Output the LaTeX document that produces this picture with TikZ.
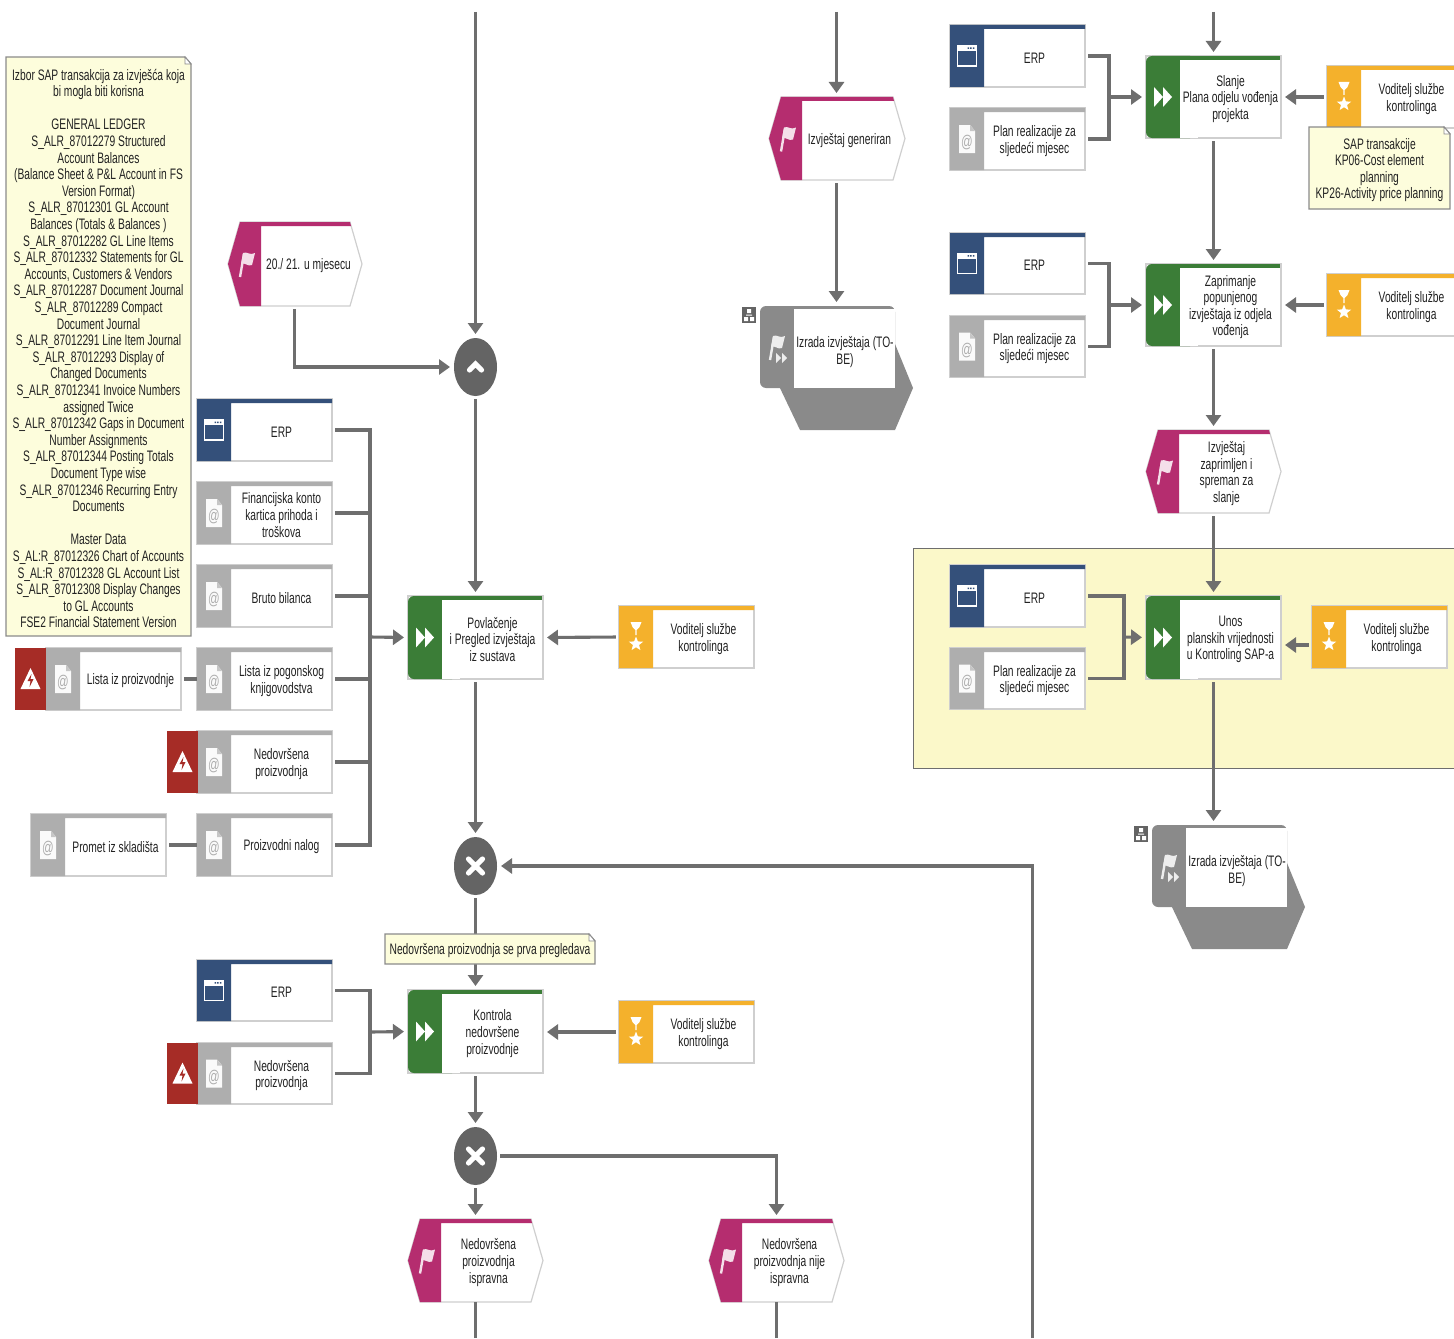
\documentclass[tikz,border=0pt]{standalone}
\usepackage{fontspec}
\setmainfont[FakeStretch=0.675]{Liberation Sans}
\usetikzlibrary{arrows.meta,fit,shapes.geometric}
\definecolor{cblue}{HTML}{34507A}
\definecolor{cgray}{HTML}{AEAEAE}
\definecolor{cgreen}{HTML}{3B7D37}
\definecolor{cmag}{HTML}{B52D6F}
\definecolor{cyel}{HTML}{F4B12C}
\definecolor{cred}{HTML}{A62C26}
\definecolor{cconn}{HTML}{6E6E6E}
\definecolor{cproc}{HTML}{8A8A8A}
\definecolor{cgate}{HTML}{646464}
\definecolor{cnote}{HTML}{FDFDDC}
\definecolor{cregion}{HTML}{FBF8C9}
\definecolor{cedge}{HTML}{CFCFCF}
\definecolor{ctext}{HTML}{222222}
\tikzset{
 lbl/.style={inner sep=0pt,align=center,text=ctext,yshift=-1pt,font=\fontsize{7.6}{8.3}\selectfont},
 hull/.style={inner sep=0pt,outer sep=0pt},
 line/.style={draw=cconn,line width=1.55pt,shorten <=1.6pt,line join=miter},
 conn/.style={line,-{Triangle[length=5.5pt,width=7.5pt]},shorten >=2pt},
 gate/.style={ellipse,fill=cgate,minimum width=21.5pt,minimum height=29pt,inner sep=0pt,outer sep=0pt},
 gatemark/.style={draw=white,line width=2.6pt,line cap=round},
}
% icons, drawn round the current origin
\newcommand\icoWin[1]{\draw[white,line width=.6pt] (-9.5,-10) rectangle (9.5,10);\fill[white] (-9.5,-10) rectangle (9.5,-5);
 \fill[cblue] (0.5,-8.5) rectangle (2,-7) (3.2,-8.5) rectangle (4.7,-7) (5.9,-8.5) rectangle (7.4,-7);}
\newcommand\icoDoc[1]{\fill[white!94!cgray] (-8,-14) -- (3,-14) -- (8,-8) -- (8,14) -- (-8,14) -- cycle;
 \fill[cgray!70] (3,-14) -- (8,-8) -- (3,-8) -- cycle;
 \node[inner sep=0pt,text=cgray,font=\fontsize{8.5}{9}\selectfont] (#1-at) at (0,4) {@};}
\newcommand\icoFwd[1]{\fill[white] (-9,-10) -- (0,0) -- (-9,10) -- cycle (0,-10) -- (9,0) -- (0,10) -- cycle;}
\newcommand\icoFlag[1]{\draw[white!85!cmag,line width=1.2pt] (-6,13) -- (-2,-10);
 \fill[white!85!cmag] (-3,-11) .. controls (1,-13) and (4,-8) .. (9,-11) -- (6,1) .. controls (2,3) and (-1,-2) .. (-5,0) -- cycle;}
\newcommand\icoRole[1]{\fill[white] (-5.5,-15) -- (5.5,-15) -- (3.5,-10) -- (0.7,-7) -- (0.7,-2) -- (-0.7,-2) -- (-0.7,-7) -- (-3.5,-10) -- cycle;
 \begin{scope}[shift={(0,7)}]\fill[white] (270:7.5)--(306:3.2)--(342:7.5)--(18:3.2)--(54:7.5)--(90:3.2)--(126:7.5)--(162:3.2)--(198:7.5)--(234:3.2)--cycle;\end{scope}}
\newcommand\icoRisk[1]{\fill[white] (-10,10) -- (10,10) -- (0,-11) -- cycle;
 \fill[cred] (1,-5) -- (-3,2) -- (0,2) -- (-1,8) -- (3,0) -- (0,0) -- cycle;}
% object box: name x1 y1 x2 y2 colour icon text
\newcommand\objbox[8]{%
 \pgfmathsetmacro\myCx{(#2+34+#4)/2}\pgfmathsetmacro\myCy{(#3+#5)/2}\pgfmathsetmacro\myIx{#2+17}
 \draw[fill=white,draw=cedge,line width=.8pt] (#2,#3) rectangle (#4,#5);
 \fill[#6] (#2,#3) rectangle ({#2+34},#5) (#2,#3) rectangle (#4,{#3+4});
 \node[hull,fit={(#2,#3)(#4,#5)}] (#1) {};
 \begin{scope}[shift={(\myIx,\myCy)}]#7{#1}\end{scope}
 \node[lbl] (#1-t) at (\myCx,\myCy) {#8};}
\newcommand\riskbox[4]{%
 \pgfmathsetmacro\myCy{(#3+#4)/2}\pgfmathsetmacro\myIx{#2+15.5}
 \fill[cred] (#2,#3) rectangle ({#2+30.5},#4);
 \node[hull,fit={(#2,#3)({#2+30.5},#4)}] (#1) {};
 \begin{scope}[shift={(\myIx,\myCy)}]\icoRisk{#1}\end{scope}}
% function: name x1 y1 x2 y2 text
\newcommand\funcbox[6]{%
 \pgfmathsetmacro\myCx{(#2+34+#4)/2}\pgfmathsetmacro\myCy{(#3+#5)/2}\pgfmathsetmacro\myIx{#2+17}
 \draw[fill=white,draw=cedge,line width=.8pt] (#2,#3) rectangle (#4,#5);
 \fill[cgreen,rounded corners=3pt] (#2,#3) rectangle ({#2+50},#5);
 \fill[white] ({#2+34},{#3+4}) rectangle ({#2+52},{#5-.5});
 \fill[cgreen] ({#2+30},#3) rectangle ({#4-1},{#3+4});
 \node[hull,fit={(#2,#3)(#4,#5)}] (#1) {};
 \begin{scope}[shift={(\myIx,\myCy)}]\icoFwd{#1}\end{scope}
 \node[lbl] (#1-t) at (\myCx,\myCy) {#6};}
% event: name x1 y1 x2 y2 text
\newcommand\eventbox[6]{%
 \pgfmathsetmacro\myCy{(#3+#5)/2}\pgfmathsetmacro\myIx{#2+18}\pgfmathsetmacro\myTx{#2+80.5}
 \draw[fill=white,draw=cedge,line width=.6pt] (#2,\myCy) -- ({#2+12},#3) -- ({#4-12},#3) -- (#4,\myCy) -- ({#4-12},#5) -- ({#2+12},#5) -- cycle;
 \fill[cmag] (#2,\myCy) -- ({#2+12},#3) -- ({#4-12},#3) -- ({#4-11},{#3+4}) -- ({#2+33},{#3+4}) -- ({#2+33},#5) -- ({#2+12},#5) -- cycle;
 \node[hull,fit={(#2,#3)(#4,#5)}] (#1) {};
 \begin{scope}[shift={(\myIx,\myCy)}]\icoFlag{#1}\end{scope}
 \node[lbl] (#1-t) at (\myTx,\myCy) {#6};}
% process interface: name x1 y1
\newcommand\procbox[3]{%
 \begin{scope}[shift={(#2,#3)}]
 \fill[cproc] (19,80) -- (40,124) -- (135,124) -- (153,82) -- (135,38) -- cycle;
 \fill[cproc,rounded corners=3pt] (0,0) rectangle (135,82);
 \fill[white] (34,3) rectangle (135,82);
 \begin{scope}[shift={(16,41)}]
 \draw[white!85!cproc,line width=1.2pt] (-6,13) -- (-2,-10);
 \fill[white!85!cproc] (-3,-11) .. controls (1,-13) and (4,-8) .. (9,-11) -- (6,1) .. controls (2,3) and (-1,-2) .. (-5,0) -- cycle;
 \fill[white!85!cproc] (0,6) -- (5,11) -- (0,16) -- cycle (6,6) -- (11,11) -- (6,16) -- cycle;
 \end{scope}
 \fill[cgate] (-18,1) rectangle (-4,17);
 \fill[white] (-13,3) rectangle (-9,7) (-16,11) rectangle (-12,15) (-10,11) rectangle (-6,15) (-14,8.5) rectangle (-8,9.5);
 \node[hull,fit={(0,0)(153,124)}] (#1) {};
 \node[lbl] (#1-t) at (85,44) {Izrada izvještaja (TO-\\BE)};
 \end{scope}}
% note: name x1 y1 x2 y2 text
\newcommand\notebox[6]{%
 \pgfmathsetmacro\myCx{(#2+#4)/2}\pgfmathsetmacro\myCy{(#3+#5)/2}
 \draw[fill=cnote,draw=cconn!80,line width=.7pt] (#2,#3) -- ({#4-6},#3) -- (#4,{#3+7}) -- (#4,#5) -- (#2,#5) -- cycle;
 \draw[fill=white,draw=cconn!80,line width=.4pt] ({#4-6},#3) -- ({#4-6},{#3+7}) -- (#4,{#3+7}) -- cycle;
 \node[hull,fit={(#2,#3)(#4,#5)}] (#1) {};
 \node[lbl] (#1-t) at (\myCx,\myCy) {#6};}
\newcommand\planlbl{Plan realizacije za\\sljedeći mjesec}
\newcommand\voditelj{Voditelj službe\\kontrolinga}
\newcommand\nedovrs{Nedovršena\\proizvodnja}
\begin{document}
\begin{tikzpicture}[x=0.5pt,y=-0.5pt]
\useasboundingbox (0,0) rectangle (1454,1338);
\clip (0,0) rectangle (1454,1338);
\fill[white] (0,0) rectangle (1454,1338);
% region
\draw[fill=cregion,draw=cconn,line width=.5pt] (913,548) rectangle (1470,768);
% events
\eventbox{evgen}{769}{97}{905}{180}{Izvještaj generiran}
\eventbox{evdate}{228}{222}{362}{306}{20./ 21. u mjesecu}
\eventbox{evrecv}{1146}{430}{1281}{513}{Izvještaj\\zaprimljen i\\spreman za\\slanje}
\eventbox{evok}{408}{1219}{543}{1302}{Nedovršena\\proizvodnja\\ispravna}
\eventbox{evnok}{709}{1219}{844}{1302}{Nedovršena\\proizvodnja nije\\ispravna}
% functions
\funcbox{fslanje}{1146}{56}{1281}{138}{Slanje\\Plana odjelu vođenja\\projekta}
\funcbox{fzapr}{1146}{264}{1281}{346}{Zaprimanje\\popunjenog\\izvještaja iz odjela\\vođenja}
\funcbox{funos}{1146}{596}{1281}{679}{Unos\\planskih vrijednosti\\u Kontroling SAP-a}
\funcbox{fpovl}{408}{596}{543}{679}{Povlačenje\\i Pregled izvještaja\\iz sustava}
\funcbox{fkontr}{408}{990}{543}{1073}{Kontrola\\nedovršene\\proizvodnje}
% process interfaces
\procbox{pone}{760}{306}
\procbox{ptwo}{1152}{825}
% objects
\objbox{erpa}{197}{399}{332}{461}{cblue}{\icoWin}{ERP}
\objbox{fink}{197}{482}{332}{544}{cgray}{\icoDoc}{Financijska konto\\kartica prihoda i\\troškova}
\objbox{brut}{197}{565}{332}{627}{cgray}{\icoDoc}{Bruto bilanca}
\objbox{lpog}{197}{648}{332}{710}{cgray}{\icoDoc}{Lista iz pogonskog\\knjigovodstva}
\objbox{nedb}{197}{731}{332}{793}{cgray}{\icoDoc}{\nedovrs}
\riskbox{nedbr}{167}{731}{793}
\objbox{pnal}{197}{814}{332}{876}{cgray}{\icoDoc}{Proizvodni nalog}
\objbox{prom}{31}{814}{166}{876}{cgray}{\icoDoc}{Promet iz skladišta}
\objbox{lizp}{46}{648}{181}{710}{cgray}{\icoDoc}{Lista iz proizvodnje}
\riskbox{lizpr}{15}{648}{710}
\objbox{erpb}{197}{960}{332}{1021}{cblue}{\icoWin}{ERP}
\objbox{nedc}{197}{1043}{332}{1104}{cgray}{\icoDoc}{\nedovrs}
\riskbox{nedcr}{167}{1043}{1104}
\objbox{erpc}{950}{25}{1085}{87}{cblue}{\icoWin}{ERP}
\objbox{plana}{950}{108}{1085}{170}{cgray}{\icoDoc}{\planlbl}
\objbox{erpd}{950}{233}{1085}{294}{cblue}{\icoWin}{ERP}
\objbox{planb}{950}{316}{1085}{377}{cgray}{\icoDoc}{\planlbl}
\objbox{erpe}{950}{565}{1085}{627}{cblue}{\icoWin}{ERP}
\objbox{planc}{950}{648}{1085}{709}{cgray}{\icoDoc}{\planlbl}
% roles
\objbox{rola}{619}{606}{754}{668}{cyel}{\icoRole}{\voditelj}
\objbox{rolb}{619}{1001}{754}{1063}{cyel}{\icoRole}{\voditelj}
\objbox{rolc}{1327}{66}{1462}{128}{cyel}{\icoRole}{\voditelj}
\objbox{rold}{1327}{274}{1462}{336}{cyel}{\icoRole}{\voditelj}
\objbox{role}{1312}{606}{1447}{668}{cyel}{\icoRole}{\voditelj}
% gateways
\node[gate] (gand) at (475.5,367) {};
\draw[gatemark] (469.5,370) -- (475.5,364) -- (481.5,370);
\node[gate] (gxa) at (475.5,866) {};
\draw[gatemark] (468.5,859) -- (482.5,873) (482.5,859) -- (468.5,873);
\node[gate] (gxb) at (475.5,1156) {};
\draw[gatemark] (468.5,1149) -- (482.5,1163) (482.5,1149) -- (468.5,1163);
% free ends
\coordinate (ta) at (475.5,12);
\coordinate (tb) at (836.5,12);
\coordinate (tc) at (1213.5,12);
\coordinate (ba) at (475.5,1338);
\coordinate (bb) at (776.5,1338);
\coordinate (bc) at (1032.5,1338);
\coordinate (busa) at (370,637);
\coordinate (busb) at (370,1032);
\coordinate (busc) at (1109,97);
\coordinate (busd) at (1109,305);
\coordinate (buse) at (1124,637);
% main flow
\draw[conn,shorten <=0pt] (ta) -- (gand.north);
\draw[conn] (evdate.south -| 294.5,306) |- (gand.west);
\draw[conn] (gand.south) -- (fpovl.north);
\draw[conn] (fpovl.south) -- (gxa.north);
\draw[conn] (gxa.south) -- (fkontr.north);
\draw[conn] (fkontr.south) -- (gxb.north);
\draw[conn] (gxb.south) -- (evok.north);
\draw[conn] (gxb.east) -| (evnok.north -| bb);
\draw[line,shorten <=0pt] (ba) -- (evok.south);
\draw[line,shorten <=0pt] (bb) -- (evnok.south -| bb);
\draw[conn,shorten <=0pt] (bc) |- (gxa.east);
\draw[conn,shorten <=0pt] (tb) -- (evgen.north -| tb);
\draw[conn] (evgen.south -| tb) -- (pone.north -| tb);
\draw[conn,shorten <=0pt] (tc) -- (fslanje.north -| tc);
\draw[conn] (fslanje.south -| tc) -- (fzapr.north -| tc);
\draw[conn] (fzapr.south -| tc) -- (evrecv.north -| tc);
\draw[conn] (evrecv.south -| tc) -- (funos.north -| tc);
\draw[conn] (funos.south -| tc) -- (ptwo.north -| tc);
% left bus
\draw[line] (erpa.east) -| (busa);
\draw[line] (pnal.east) -| (busa);
\draw[line] (fink.east) -- (fink.east -| busa);
\draw[line] (brut.east) -- (brut.east -| busa);
\draw[line] (lpog.east) -- (lpog.east -| busa);
\draw[line] (nedb.east) -- (nedb.east -| busa);
\draw[conn,shorten <=0pt] (busa) -- (fpovl.west);
\draw[line,shorten >=0pt] (lizp.east) -- (lpog.west);
\draw[line,shorten >=0pt] (prom.east) -- (pnal.west);
\draw[line] (erpb.east) -| (busb);
\draw[line] (nedc.east) -| (busb);
\draw[conn,shorten <=0pt] (busb) -- (fkontr.west);
% right buses
\draw[line] (erpc.east) -| (busc);
\draw[line] (plana.east) -| (busc);
\draw[conn,shorten <=0pt] (busc) -- (busc -| fslanje.west);
\draw[line] (erpd.east) -| (busd);
\draw[line] (planb.east) -| (busd);
\draw[conn,shorten <=0pt] (busd) -- (busd -| fzapr.west);
\draw[line] (erpe.east) -| (buse);
\draw[line] (planc.east) -| (buse);
\draw[conn,shorten <=0pt] (buse) -- (funos.west);
% roles
\draw[conn] (rola.west) -- (fpovl.east);
\draw[conn] (rolb.west) -- (rolb.west -| fkontr.east);
\draw[conn] (rolc.west) -- (rolc.west -| fslanje.east);
\draw[conn] (rold.west) -- (rold.west -| fzapr.east);
\coordinate (rolep) at (1312,645);
\draw[conn] (rolep) -- (rolep -| funos.east);
% notes
\notebox{nbig}{6}{57}{191}{636}{Izbor SAP transakcija za izvješća koja\\bi mogla biti korisna\\\mbox{}\\GENERAL LEDGER\\S\_ALR\_87012279 Structured\\Account Balances\\(Balance Sheet \& P\&L Account in FS\\Version Format)\\S\_ALR\_87012301 GL Account\\Balances (Totals \& Balances )\\S\_ALR\_87012282 GL Line Items\\S\_ALR\_87012332 Statements for GL\\Accounts, Customers \& Vendors\\S\_ALR\_87012287 Document Journal\\S\_ALR\_87012289 Compact\\Document Journal\\S\_ALR\_87012291 Line Item Journal\\S\_ALR\_87012293 Display of\\Changed Documents\\S\_ALR\_87012341 Invoice Numbers\\assigned Twice\\S\_ALR\_87012342 Gaps in Document\\Number Assignments\\S\_ALR\_87012344 Posting Totals\\Document Type wise\\S\_ALR\_87012346 Recurring Entry\\Documents\\\mbox{}\\Master Data\\S\_AL:R\_87012326 Chart of Accounts\\S\_AL:R\_87012328 GL Account List\\S\_ALR\_87012308 Display Changes\\to GL Accounts\\FSE2 Financial Statement Version}
\notebox{nsap}{1309}{127}{1450}{209}{SAP transakcije\\KP06-Cost element\\planning\\KP26-Activity price planning}
\notebox{nned}{385}{934}{595}{964}{Nedovršena proizvodnja se prva pregledava}
\end{tikzpicture}
\end{document}
